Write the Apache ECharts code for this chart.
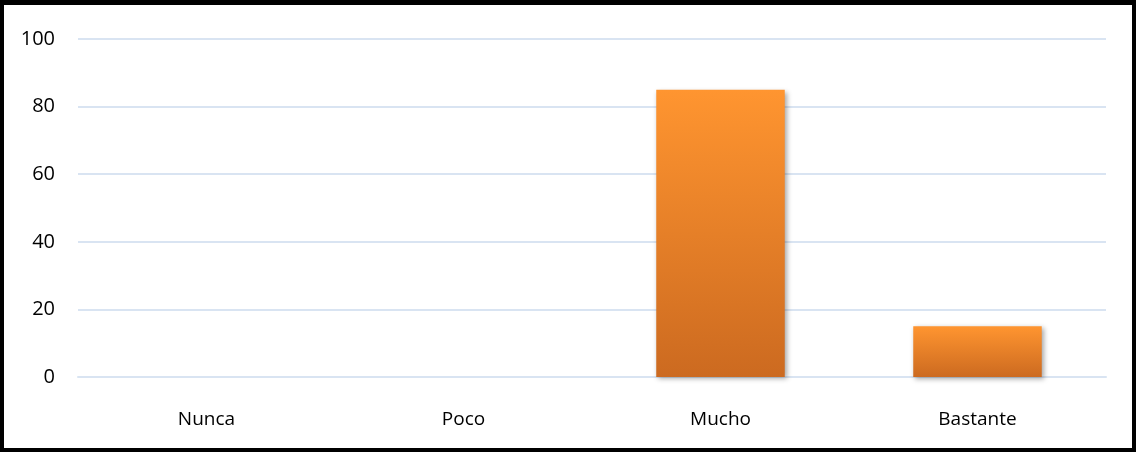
<!DOCTYPE html>
<html>
<head>
<meta charset="utf-8">
<script src="https://cdn.jsdelivr.net/npm/echarts@6/dist/echarts.min.js"></script>
<style>
  html, body { margin: 0; padding: 0; background: #fff; }
  #frame {
    position: absolute; left: 0; top: 0;
    width: 1136px; height: 452px; box-sizing: border-box;
    border: 4px solid #000; border-top: 5px solid #000;
    background: #fff;
  }
  #chart { position: absolute; left: -4px; top: -5px; width: 1136px; height: 452px; }
</style>
</head>
<body>
<div id="frame"><div id="chart"></div></div>
<script>
// Categories and values of the bar chart
const categories = ['Nunca', 'Poco', 'Mucho', 'Bastante'];
const values = [0, 0, 85, 15];
const yTicks = { min: 0, max: 100, interval: 20 };

const chart = echarts.init(document.getElementById('chart'), null, { renderer: 'canvas' });

const fontFamily = 'Open Sans, Noto Sans, sans-serif';

chart.setOption({
  animation: false,
  grid: { left: 78, right: 30, top: 39, bottom: 75, containLabel: false },
  xAxis: {
    type: 'category',
    data: categories,
    axisLine: { show: true, lineStyle: { color: '#d9e4f2', width: 2 } },
    axisTick: { show: false },
    axisLabel: { color: '#000', fontSize: 19, fontFamily, margin: 33 }
  },
  yAxis: {
    type: 'value',
    min: yTicks.min, max: yTicks.max, interval: yTicks.interval,
    axisLine: { show: false },
    axisTick: { show: false },
    splitLine: { lineStyle: { color: '#d9e4f2', width: 2 } },
    axisLabel: { color: '#000', fontSize: 20, fontFamily, margin: 23 }
  },
  series: [{
    type: 'bar',
    data: values,
    barWidth: '50%',
    itemStyle: {
      color: new echarts.graphic.LinearGradient(0, 0, 0, 1, [
        { offset: 0, color: '#ff9530' },
        { offset: 1, color: '#cc6a20' }
      ]),
      shadowColor: 'rgba(0,0,0,0.35)',
      shadowBlur: 5,
      shadowOffsetX: 2,
      shadowOffsetY: 2
    }
  }]
});
</script>
</body>
</html>
